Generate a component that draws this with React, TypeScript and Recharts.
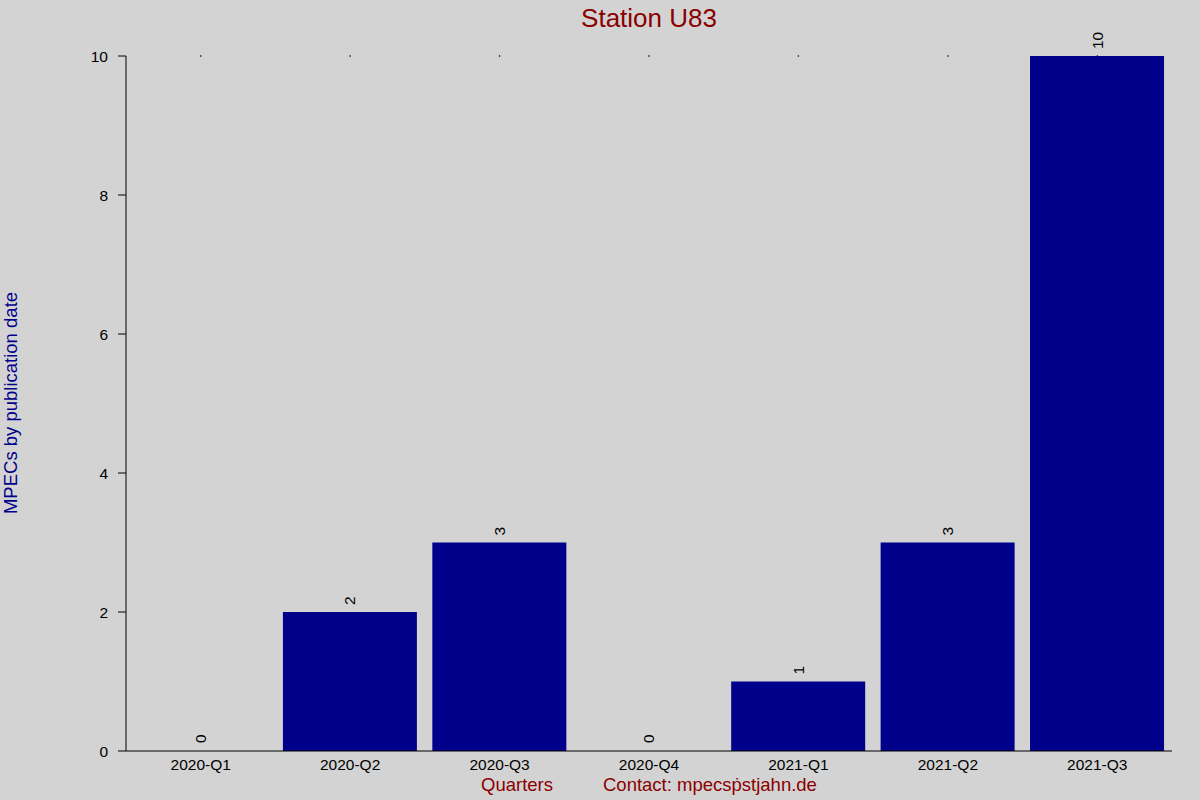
import React from "react";
import { BarChart, Bar, XAxis, YAxis, LabelList, ReferenceDot, Rectangle } from "recharts";

document.body.style.margin = "0";

const quarters = ["2020-Q1", "2020-Q2", "2020-Q3", "2020-Q4", "2021-Q1", "2021-Q2", "2021-Q3"];
const mpecs = [0, 2, 3, 0, 1, 3, 10];
const yTicks = [0, 2, 4, 6, 8, 10];

const data = quarters.map((q, i) => ({ quarter: q, count: mpecs[i] }));

const FONT = "'Liberation Sans', Arial, sans-serif";

const BarValue = (props: any) => {
  const { x, y, width, value } = props;
  const cx = x + width / 2;
  const cy = y - 7;
  return (
    <text
      x={cx}
      y={cy}
      transform={`rotate(-90 ${cx} ${cy})`}
      textAnchor="start"
      dominantBaseline="central"
      fontSize={15.5}
      fontFamily={FONT}
      fill="#000"
    >
      {value}
    </text>
  );
};

// zero bars get a 1px stub from minPointSize so their label shows; don't paint it
const BarShape = (props: any) => {
  if (!props.payload || props.payload.count === 0) return <g />;
  return <Rectangle {...props} />;
};

export default function App() {
  return (
    <div style={{ position: "relative", width: 1200, height: 800, background: "#d3d3d3", fontFamily: FONT }}>
      <BarChart
        width={1200}
        height={800}
        data={data}
        margin={{ top: 56, right: 28, bottom: 19, left: 66 }}
        barCategoryGap="5%"
      >
        <XAxis
          dataKey="quarter"
          tickLine={false}
          axisLine={{ stroke: "#000" }}
          tick={{ fill: "#000", fontSize: 15.5, fontFamily: FONT }}
          height={30}
          interval={0}
        />
        <YAxis
          domain={[0, 10]}
          ticks={yTicks}
          width={60}
          tickSize={8}
          tickMargin={10}
          axisLine={{ stroke: "#000" }}
          tickLine={{ stroke: "#000" }}
          tick={{ fill: "#000", fontSize: 15.5, fontFamily: FONT }}
        />
        {quarters.map((q) => (
          <ReferenceDot key={q} x={q} y={10} r={0.8} fill="#000" stroke="none" />
        ))}
        <Bar dataKey="count" fill="#00008b" minPointSize={1} shape={BarShape} isAnimationActive={false}>
          <LabelList dataKey="count" content={BarValue} />
        </Bar>
      </BarChart>
      <div style={{ position: "absolute", left: 0, width: 1298, top: 3, textAlign: "center", color: "#8b0000", fontSize: 26 }}>
        Station U83
      </div>
      <div
        style={{
          position: "absolute",
          left: 11,
          top: 403,
          transform: "translate(-50%, -50%) rotate(-90deg)",
          whiteSpace: "nowrap",
          color: "#00008b",
          fontSize: 18.5,
        }}
      >
        MPECs by publication date
      </div>
      <div style={{ position: "absolute", left: 481, top: 774, color: "#8b0000", fontSize: 18.5 }}>Quarters</div>
      <div style={{ position: "absolute", left: 603, top: 774, color: "#8b0000", fontSize: 18.5 }}>
        Contact: mpecsṗstjahn.de
      </div>
    </div>
  );
}
